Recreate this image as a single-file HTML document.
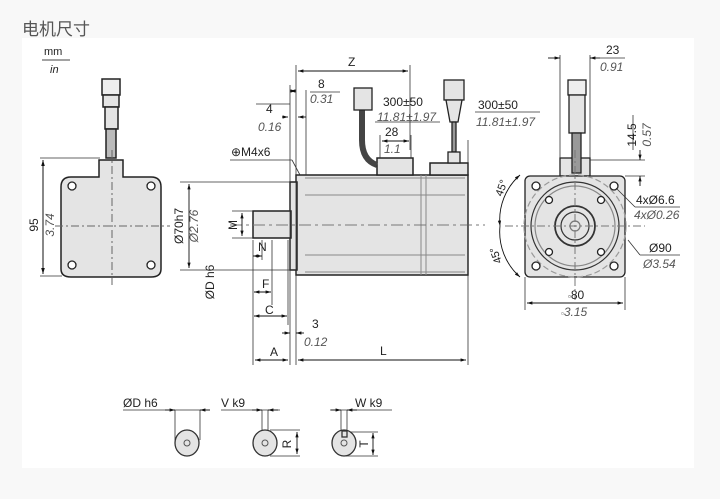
<!DOCTYPE html>
<html><head><meta charset="utf-8"><style>
html,body{margin:0;padding:0;background:#f8f8f8;width:720px;height:499px;overflow:hidden}
svg{display:block}
text{font-family:"Liberation Sans",Arial,sans-serif;fill:#222}
.i{font-style:italic}
</style></head><body>
<svg width="720" height="499" viewBox="0 0 720 499" xmlns="http://www.w3.org/2000/svg">
<defs>
<marker id="a" viewBox="0 0 10 10" refX="10" refY="5" markerWidth="6" markerHeight="6" orient="auto-start-reverse"><path d="M0,2 L10,5 L0,8z" fill="#111"/></marker>
</defs>
<text x="22" y="35" font-family="'Liberation Sans','Noto Sans CJK SC',sans-serif" font-size="17" style="fill:#555">电机尺寸</text>
<rect x="22" y="38" width="672" height="430" fill="#fff"/>
<g font-size="12">
<!-- mm/in -->
<text x="44" y="55" font-size="11">mm</text><line x1="42" y1="60" x2="70" y2="60" stroke="#444"/><text x="50" y="73" class="i" font-size="11">in</text>

<!-- LEFT VIEW -->
<g stroke="#222" fill="#e4e4e4" stroke-width="1.5">
<rect x="102" y="79" width="18" height="16" fill="#eee"/>
<rect x="103" y="95" width="16" height="12"/>
<rect x="105" y="107" width="13" height="22"/>
<rect x="106" y="129" width="10" height="29" fill="#bbb"/>
<path d="M61,187 q0,-10 10,-10 h28 v-17 h24 v17 h28 q10,0 10,10 v82 q0,8 -10,8 h-80 q-10,0 -10,-8z"/>
</g>
<g fill="#fff" stroke="#222" stroke-width="1.3">
<circle cx="72" cy="186" r="4"/><circle cx="151" cy="186" r="4"/><circle cx="72" cy="265" r="4"/><circle cx="151" cy="265" r="4"/>
</g>
<line x1="112" y1="150" x2="112" y2="285" stroke="#666" stroke-dasharray="8,3,2,3"/>
<line x1="55" y1="226" x2="170" y2="226" stroke="#666" stroke-dasharray="8,3,2,3"/>
<g stroke="#333" stroke-width="0.8"><line x1="40" y1="158" x2="100" y2="158"/><line x1="40" y1="276" x2="62" y2="276"/></g>
<line x1="43" y1="160" x2="43" y2="274" stroke="#111" marker-start="url(#a)" marker-end="url(#a)"/>
<text transform="translate(38,225) rotate(-90)" text-anchor="middle">95</text>
<text transform="translate(54,225) rotate(-90)" text-anchor="middle" class="i" style="fill:#555">3.74</text>

<!-- SIDE VIEW -->
<g stroke="#222" stroke-width="1.5" fill="#e4e4e4">
<rect x="296" y="175" width="172" height="100"/>
<rect x="290" y="182" width="7" height="88"/>
<rect x="253" y="211" width="38" height="27"/>
<rect x="377" y="158" width="36" height="17"/>
<rect x="430" y="163" width="38" height="12"/>
</g>
<g stroke="#888" stroke-width="1" fill="none">
<line x1="305" y1="178" x2="465" y2="178"/><line x1="305" y1="195" x2="465" y2="195"/>
<line x1="305" y1="255" x2="465" y2="255"/><line x1="305" y1="272" x2="465" y2="272"/>
<line x1="421" y1="175" x2="421" y2="275"/><line x1="426" y1="175" x2="426" y2="275"/>
</g>
<path d="M362,95 v45 q0,20 15,25" stroke="#444" stroke-width="6" fill="none"/>
<g stroke="#222" stroke-width="1.3" fill="#e4e4e4">
<rect x="354" y="88" width="18" height="22"/><rect x="444" y="80" width="20" height="20"/>
<path d="M446,100 h16 l-4,22 h-8z"/><rect x="452" y="122" width="4" height="30" fill="#999"/>
<rect x="448" y="152" width="12" height="11"/>
</g>
<line x1="230" y1="225" x2="485" y2="225" stroke="#777" stroke-dasharray="12,4,3,4"/>
<!-- side dims -->
<g stroke="#333" stroke-width="0.8">
<line x1="296" y1="65" x2="296" y2="365"/><line x1="290" y1="85" x2="290" y2="365"/>
<line x1="306" y1="90" x2="306" y2="175"/><line x1="410" y1="65" x2="410" y2="150"/>
<line x1="468" y1="140" x2="468" y2="365"/><line x1="253" y1="240" x2="253" y2="365"/>
<line x1="180" y1="182" x2="290" y2="182"/><line x1="180" y1="270" x2="290" y2="270"/>
<line x1="232" y1="211" x2="253" y2="211"/><line x1="232" y1="238" x2="253" y2="238"/>
<line x1="262" y1="240" x2="262" y2="260"/><line x1="272" y1="240" x2="272" y2="305"/>
<line x1="288" y1="240" x2="288" y2="325"/>
<line x1="230" y1="160" x2="292" y2="160"/><line x1="292" y1="160" x2="300" y2="175"/>
<line x1="380" y1="135" x2="380" y2="158"/><line x1="411" y1="135" x2="411" y2="158"/>
<line x1="375" y1="122" x2="440" y2="122"/><line x1="475" y1="112" x2="540" y2="112"/>
<line x1="256" y1="104" x2="290" y2="104"/><line x1="310" y1="92" x2="340" y2="92"/>
</g>
<g stroke="#111" stroke-width="0.9" fill="none">
<line x1="298" y1="71" x2="408" y2="71" marker-start="url(#a)" marker-end="url(#a)"/>
<line x1="290" y1="91" x2="296" y2="91" marker-start="url(#a)" marker-end="url(#a)"/>
<line x1="282" y1="117" x2="288" y2="117" marker-end="url(#a)"/><line x1="306" y1="117" x2="298" y2="117" marker-end="url(#a)"/>
<line x1="382" y1="141" x2="409" y2="141" marker-start="url(#a)" marker-end="url(#a)"/>
<line x1="189" y1="184" x2="189" y2="268" marker-start="url(#a)" marker-end="url(#a)"/>
<line x1="242" y1="213" x2="242" y2="236" marker-start="url(#a)" marker-end="url(#a)"/>
<line x1="253" y1="256" x2="262" y2="256" marker-start="url(#a)" marker-end="url(#a)"/>
<line x1="254" y1="292" x2="271" y2="292" marker-start="url(#a)" marker-end="url(#a)"/>
<line x1="254" y1="316" x2="287" y2="316" marker-start="url(#a)" marker-end="url(#a)"/>
<line x1="282" y1="333" x2="290" y2="333" marker-end="url(#a)"/><line x1="304" y1="333" x2="296" y2="333" marker-end="url(#a)"/>
<line x1="255" y1="360" x2="288" y2="360" marker-start="url(#a)" marker-end="url(#a)"/>
<line x1="298" y1="360" x2="466" y2="360" marker-start="url(#a)" marker-end="url(#a)"/>
</g>
<text x="348" y="66">Z</text>
<text x="318" y="88">8</text><text x="310" y="103" class="i" style="fill:#555">0.31</text>
<text x="266" y="113">4</text><text x="258" y="131" class="i" style="fill:#555">0.16</text>
<text x="231" y="156">⊕M4x6</text>
<text x="383" y="106">300±50</text><text x="377" y="121" class="i" style="fill:#555">11.81±1.97</text>
<text x="385" y="136">28</text><text x="384" y="153" class="i" style="fill:#555">1.1</text>
<text x="478" y="109">300±50</text><text x="476" y="126" class="i" style="fill:#555">11.81±1.97</text>
<text transform="translate(183,226) rotate(-90)" text-anchor="middle">Ø70h7</text>
<text transform="translate(198,226) rotate(-90)" text-anchor="middle" class="i" style="fill:#555">Ø2.76</text>
<text transform="translate(237,225) rotate(-90)" text-anchor="middle">M</text>
<text transform="translate(214,282) rotate(-90)" text-anchor="middle">ØD h6</text>
<text x="258" y="251">N</text><text x="262" y="288">F</text><text x="265" y="314">C</text>
<text x="312" y="328">3</text><text x="304" y="346" class="i" style="fill:#555">0.12</text>
<text x="270" y="356">A</text><text x="380" y="355">L</text>

<!-- FRONT VIEW -->
<g stroke="#222" stroke-width="1.3" fill="#e4e4e4">
<rect x="560" y="158" width="30" height="18"/>
<rect x="568" y="80" width="18" height="15" fill="#eee"/><rect x="569" y="95" width="16" height="38"/>
<rect x="572" y="133" width="9" height="40" fill="#999"/>
<rect x="525" y="176" width="100" height="101" rx="5"/>
</g>
<g fill="none" stroke="#333" stroke-width="1.2">
<circle cx="575" cy="226" r="44"/><circle cx="575" cy="226" r="40" stroke="#888"/>
<circle cx="575" cy="226" r="20" stroke-width="1.8"/><circle cx="575" cy="226" r="14"/>
<circle cx="575" cy="226" r="5" stroke="#777"/>
<circle cx="575" cy="226" r="51" stroke="#999" stroke-dasharray="6,3"/>
</g>
<g fill="#fff" stroke="#222" stroke-width="1.3">
<circle cx="536" cy="186" r="4"/><circle cx="614" cy="186" r="4"/><circle cx="536" cy="266" r="4"/><circle cx="614" cy="266" r="4"/>
<circle cx="549" cy="200" r="3.5"/><circle cx="601" cy="200" r="3.5"/><circle cx="549" cy="252" r="3.5"/><circle cx="601" cy="252" r="3.5"/>
</g>
<line x1="575" y1="150" x2="575" y2="300" stroke="#777" stroke-dasharray="8,3,2,3"/>
<line x1="505" y1="226" x2="645" y2="226" stroke="#777" stroke-dasharray="8,3,2,3"/>
<g stroke="#333" stroke-width="0.8">
<line x1="560" y1="55" x2="560" y2="158"/><line x1="590" y1="55" x2="590" y2="158"/>
<line x1="590" y1="160" x2="645" y2="160"/><line x1="625" y1="176" x2="645" y2="176"/>
<line x1="525" y1="277" x2="525" y2="310"/><line x1="625" y1="277" x2="625" y2="310"/>
<line x1="616" y1="188" x2="635" y2="207"/><line x1="635" y1="207" x2="680" y2="207"/>
<line x1="628" y1="240" x2="640" y2="255"/><line x1="640" y1="255" x2="680" y2="255"/>
<line x1="600" y1="58" x2="625" y2="58"/><line x1="633" y1="115" x2="633" y2="150"/>
</g>
<g stroke="#111" stroke-width="0.9" fill="none">
<line x1="548" y1="58" x2="560" y2="58" marker-end="url(#a)"/><line x1="600" y1="58" x2="590" y2="58" marker-end="url(#a)"/>
<line x1="640" y1="150" x2="640" y2="160" marker-end="url(#a)"/><line x1="640" y1="186" x2="640" y2="176" marker-end="url(#a)"/>
<line x1="527" y1="303" x2="623" y2="303" marker-start="url(#a)" marker-end="url(#a)"/>
<path d="M520,175 A60,60 0 0 0 500,226" marker-start="url(#a)" marker-end="url(#a)"/>
<path d="M500,226 A60,60 0 0 0 520,277" marker-end="url(#a)"/>
</g>
<text x="606" y="54">23</text><text x="600" y="71" class="i" style="fill:#555">0.91</text>
<text transform="translate(636,135) rotate(-90)" text-anchor="middle">14.5</text>
<text transform="translate(651,135) rotate(-90)" text-anchor="middle" class="i" style="fill:#555">0.57</text>
<text x="636" y="204">4xØ6.6</text><text x="634" y="219" class="i" style="fill:#555">4xØ0.26</text>
<text x="649" y="252">Ø90</text><text x="643" y="268" class="i" style="fill:#555">Ø3.54</text>
<text x="568" y="299"><tspan font-size="8">▫</tspan>80</text>
<text x="561" y="316" class="i" style="fill:#555"><tspan font-size="8">▫</tspan>3.15</text>
<text transform="translate(502,197) rotate(-70)" font-size="11">45°</text>
<text transform="translate(502,262) rotate(-110)" font-size="11">45°</text>

<!-- BOTTOM -->
<g stroke="#333" stroke-width="0.8">
<line x1="123" y1="410" x2="210" y2="410"/><line x1="175" y1="410" x2="175" y2="440"/><line x1="200" y1="410" x2="200" y2="440"/>
<line x1="221" y1="410" x2="280" y2="410"/><line x1="262" y1="410" x2="262" y2="440"/><line x1="268" y1="410" x2="268" y2="440"/>
<line x1="270" y1="430" x2="300" y2="430"/><line x1="270" y1="456" x2="300" y2="456"/>
<line x1="330" y1="410" x2="392" y2="410"/><line x1="341" y1="410" x2="341" y2="432"/><line x1="347" y1="410" x2="347" y2="432"/>
<line x1="347" y1="432" x2="378" y2="432"/><line x1="345" y1="456" x2="378" y2="456"/>
</g>
<g stroke="#111" stroke-width="0.9">
<line x1="165" y1="410" x2="175" y2="410" marker-end="url(#a)"/><line x1="210" y1="410" x2="200" y2="410" marker-end="url(#a)"/>
<line x1="252" y1="410" x2="262" y2="410" marker-end="url(#a)"/><line x1="278" y1="410" x2="268" y2="410" marker-end="url(#a)"/>
<line x1="297" y1="432" x2="297" y2="454" marker-start="url(#a)" marker-end="url(#a)"/>
<line x1="331" y1="410" x2="341" y2="410" marker-end="url(#a)"/><line x1="357" y1="410" x2="347" y2="410" marker-end="url(#a)"/>
<line x1="373" y1="433" x2="373" y2="455" marker-start="url(#a)" marker-end="url(#a)"/>
</g>
<g stroke="#333" stroke-width="1.3" fill="#e4e4e4">
<ellipse cx="187" cy="443" rx="12" ry="13"/><ellipse cx="265" cy="443" rx="12" ry="13"/><ellipse cx="344" cy="443" rx="12" ry="13"/>
<rect x="342" y="431" width="5" height="6"/>
</g>
<g fill="none" stroke="#555"><circle cx="187" cy="443" r="3"/><circle cx="265" cy="443" r="3"/><circle cx="344" cy="443" r="3"/></g>
<text x="123" y="407">ØD h6</text><text x="221" y="407">V k9</text><text x="355" y="407">W k9</text>
<text transform="translate(291,444) rotate(-90)" text-anchor="middle">R</text>
<text transform="translate(368,444) rotate(-90)" text-anchor="middle">T</text>
</g>
</svg>
</body></html>
